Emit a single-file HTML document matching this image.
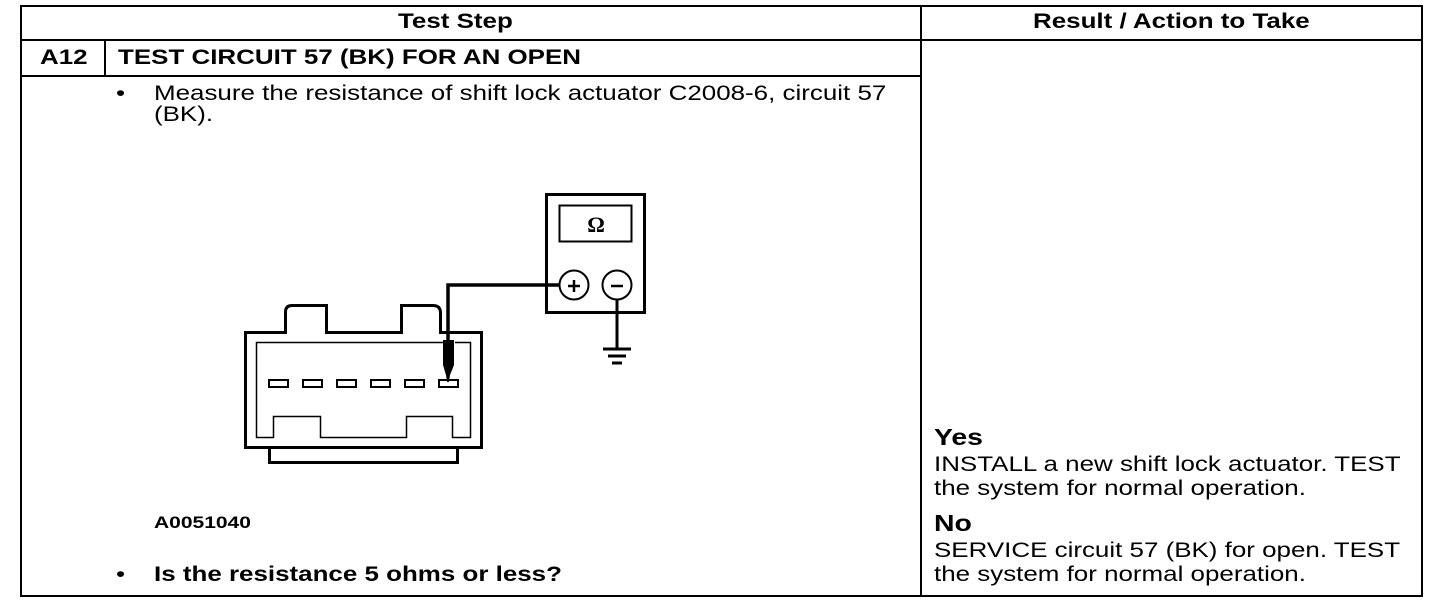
<!DOCTYPE html>
<html><head><meta charset="utf-8"><style>
html,body{margin:0;padding:0;background:#fff;}
body{width:1456px;height:610px;position:relative;overflow:hidden;font-family:"Liberation Sans",Arial,sans-serif;color:#000;}
.t{position:absolute;white-space:nowrap;font-size:21px;line-height:24px;transform:scaleX(1.235);transform-origin:0 0;}
.b{font-weight:bold;}
.l{position:absolute;background:#000;}
</style></head><body>
<div class="l" style="left:20px;top:5px;width:1403px;height:2px"></div>
<div class="l" style="left:20px;top:595px;width:1403px;height:2px"></div>
<div class="l" style="left:20px;top:5px;width:2px;height:592px"></div>
<div class="l" style="left:1421px;top:5px;width:2px;height:592px"></div>
<div class="l" style="left:20px;top:39px;width:1403px;height:2px"></div>
<div class="l" style="left:20px;top:75px;width:902px;height:2px"></div>
<div class="l" style="left:920px;top:5px;width:2px;height:592px"></div>
<div class="l" style="left:104px;top:39px;width:2px;height:37px"></div>

<div class="t b" style="left:398px;top:10px;">Test Step</div>
<div class="t b" style="left:1033px;top:10px;">Result / Action to Take</div>
<div class="t b" style="left:40px;top:46px;">A12</div>
<div class="t b" style="left:118px;top:46px;">TEST CIRCUIT 57 (BK) FOR AN OPEN</div>
<div class="t" style="left:116px;top:82px;">•</div>
<div class="t" style="left:154px;top:82px;">Measure the resistance of shift lock actuator C2008-6, circuit 57</div>
<div class="t" style="left:154px;top:103px;">(BK).</div>
<div class="t b" style="left:154px;top:511px;font-size:17px;">A0051040</div>
<div class="t" style="left:116px;top:563px;">•</div>
<div class="t b" style="left:154px;top:563px;">Is the resistance 5 ohms or less?</div>

<div class="t b" style="left:934px;top:425px;font-size:23px;">Yes</div>
<div class="t" style="left:934px;top:453px;">INSTALL a new shift lock actuator. TEST</div>
<div class="t" style="left:934px;top:477px;">the system for normal operation.</div>
<div class="t b" style="left:934px;top:511px;font-size:23px;">No</div>
<div class="t" style="left:934px;top:539px;">SERVICE circuit 57 (BK) for open. TEST</div>
<div class="t" style="left:934px;top:563px;">the system for normal operation.</div>

<svg width="1456" height="610" style="position:absolute;left:0;top:0" xmlns="http://www.w3.org/2000/svg">
<g fill="none" stroke="#000">
<rect x="546.5" y="194.5" width="98" height="118" stroke-width="3"/>
<rect x="559.5" y="205.5" width="72" height="36" stroke-width="2"/>
<circle cx="574" cy="285" r="14.5" stroke-width="2"/>
<circle cx="617" cy="285" r="14.5" stroke-width="2"/>
<line x1="568" y1="286" x2="580" y2="286" stroke-width="2.5"/>
<line x1="574" y1="280" x2="574" y2="292" stroke-width="2.5"/>
<line x1="611" y1="286" x2="623" y2="286" stroke-width="2.5"/>
<polyline points="560,285 448,285 448,345" stroke-width="3.5"/>
<line x1="617" y1="300" x2="617" y2="348" stroke-width="3"/>
<line x1="603" y1="349" x2="631" y2="349" stroke-width="3"/>
<line x1="608" y1="356" x2="626" y2="356" stroke-width="3"/>
<line x1="612" y1="363" x2="622" y2="363" stroke-width="3"/>
<path d="M245.5,449 V332.5 H285.5 V312 Q285.5,305.5 292,305.5 H326.5 V332.5 H401.5 V305.5 H433 Q440.5,305.5 440.5,313 V332.5 H481.5 V447.5 H245.5" stroke-width="3"/>
<path d="M256.5,438 V342.5 H443 M455,342.5 H470.5 V438" stroke-width="1.5"/>
<path d="M256,437.5 H273.5 V416.5 H320.5 V437.5 H406.5 V416.5 H452.5 V437.5 H471" stroke-width="1.5"/>
<path d="M269.5,448 V462.5 H457.5 V448" stroke-width="3"/>
<g stroke-width="2">
<rect x="269" y="380" width="19" height="7"/>
<rect x="303" y="380" width="19" height="7"/>
<rect x="337" y="380" width="19" height="7"/>
<rect x="371" y="380" width="19" height="7"/>
<rect x="405" y="380" width="19" height="7"/>
<rect x="439" y="380" width="19" height="7"/>
</g>
</g>
<path d="M443,340 H454 V365 L450,375 L449,382 L447,382 L446,375 L443,365 Z" fill="#000"/>
<text x="596" y="232" font-family="Liberation Serif,serif" font-weight="bold" font-size="22" text-anchor="middle">Ω</text>
</svg>
</body></html>
